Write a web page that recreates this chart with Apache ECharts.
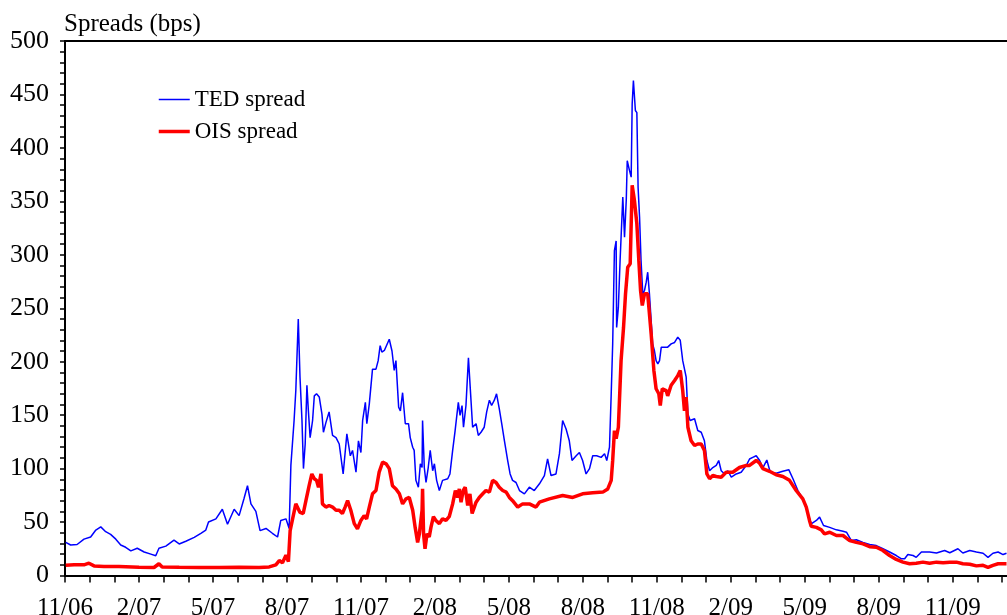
<!DOCTYPE html>
<html>
<head>
<meta charset="utf-8">
<script src="https://cdn.jsdelivr.net/npm/echarts@6/dist/echarts.min.js"></script>
<style>
html,body{margin:0;padding:0;background:#fff;}
#chart{width:1007px;height:615px;}
</style>
</head>
<body>
<div id="chart"></div>
<script>
// x values: months elapsed since 1 Nov 2006
var tickLabels = ['11/06','2/07','5/07','8/07','11/07','2/08','5/08','8/08','11/08','2/09','5/09','8/09','11/09'];
var yTicks = [0,50,100,150,200,250,300,350,400,450,500];

var tedMonths = [0.03,0.23,0.49,0.77,1.04,1.25,1.45,1.65,1.85,2.06,2.26,2.46,2.67,2.93,3.21,3.48,3.68,3.81,4.09,4.42,4.63,4.90,5.24,5.51,5.71,5.82,6.12,6.38,6.59,6.86,7.06,7.26,7.40,7.54,7.74,7.91,8.15,8.41,8.62,8.75,8.96,9.09,9.16,9.29,9.36,9.46,9.53,9.61,9.67,9.74,9.81,9.87,9.94,10.04,10.11,10.20,10.31,10.42,10.48,10.58,10.71,10.85,10.99,11.12,11.28,11.43,11.57,11.66,11.80,11.90,12.00,12.07,12.18,12.24,12.34,12.47,12.61,12.70,12.78,12.85,12.95,13.02,13.15,13.26,13.35,13.42,13.53,13.60,13.69,13.80,13.93,14.00,14.10,14.16,14.23,14.33,14.41,14.48,14.50,14.57,14.64,14.73,14.81,14.91,14.98,15.07,15.18,15.31,15.52,15.61,15.72,15.82,15.95,16.02,16.10,16.16,16.26,16.36,16.44,16.53,16.67,16.76,16.87,17.00,17.10,17.21,17.30,17.41,17.50,17.61,17.71,17.82,17.95,18.05,18.15,18.29,18.43,18.63,18.83,19.03,19.24,19.44,19.57,19.71,19.91,20.05,20.18,20.32,20.45,20.56,20.73,20.86,20.99,21.13,21.27,21.40,21.56,21.74,21.88,21.97,22.08,22.15,22.21,22.28,22.35,22.37,22.44,22.51,22.58,22.62,22.69,22.76,22.80,22.89,22.96,23.00,23.05,23.13,23.19,23.24,23.30,23.36,23.43,23.50,23.57,23.63,23.70,23.77,23.83,23.90,23.97,24.04,24.11,24.18,24.31,24.44,24.58,24.72,24.85,24.95,25.05,25.19,25.26,25.35,25.53,25.66,25.80,25.93,26.03,26.14,26.27,26.41,26.51,26.61,26.75,26.88,27.02,27.22,27.42,27.63,27.76,27.89,28.03,28.17,28.30,28.46,28.60,28.84,29.11,29.35,29.52,29.72,29.92,30.09,30.26,30.47,30.60,30.76,31.01,31.28,31.55,31.69,31.89,32.09,32.36,32.63,32.90,33.17,33.44,33.71,33.92,34.05,34.18,34.39,34.52,34.73,35.06,35.34,35.67,35.88,36.21,36.41,36.69,36.96,37.23,37.43,37.63,37.84,38.04,38.18];
var tedValues = [31,28.5,29,34,36,42.5,45.5,41,38.5,34,28.5,26.4,23,25.5,22,20,18.5,25.5,27.5,33,29.5,32,35.7,39.5,42.5,50,53,62,48,62,56,72,84,67,60,42,44,39.5,36,51.5,53,44,103,145,173,240,185.5,145,100,123,178,154,129,145,168,170,167,151,134,143,153,131,129,123,95,132.5,112,117,96.6,126,115,145,162,142,160.6,193,193,201,215,209,210.5,209,221,210,191.8,201,157.5,154,171,142,142,129,120,117,89,82.6,104.5,101,145,101,87,101,117,98,104.5,89,79.5,89,90.5,95,117,135.6,162,149.7,159,138.7,159,203.6,203.6,138.7,142,131,134,138.7,153,164,159,164,170,156,142,126,107.6,95,89,87,79.5,76.4,82.6,79.5,85.8,93.5,109,93.5,95,114,145,137,126,107.6,112,115,107.6,95,100,112,112,110.5,114,107.6,120,170,216.7,304,313,232,251,294.7,294.7,354,316.5,351,388,379,372.6,441,463,435,433,363,335,294.7,263.5,266.6,274.4,283.7,263.5,238.5,216.7,210.5,201,198,201,213.6,213.6,213.6,216.7,218,223,220,201,185.5,151,145,146.6,135.6,134,126,107.6,98,101,103,107.6,98,95,98,92,95,96.6,103,109,110.5,112,107.6,100.7,108,96.6,95.7,97.5,99,90.5,79.5,71.7,60.8,48.4,51.5,54.6,46.8,45,42.7,41.4,40.5,32.7,33.4,31,29,28,25,22,18.7,15.6,15.6,19.6,18.7,17,22,22,21,23.4,21.3,25,21,23.4,22,20.8,17,20.8,22,19.6,20.8];

var oisMonths = [0.03,0.37,0.77,0.97,1.18,1.58,2.19,3.00,3.61,3.81,3.94,4.63,5.44,6.25,7.06,7.87,8.28,8.55,8.69,8.82,8.96,9.06,9.13,9.23,9.36,9.43,9.53,9.66,9.77,9.90,10.01,10.11,10.20,10.28,10.38,10.44,10.58,10.71,10.85,10.99,11.12,11.25,11.36,11.46,11.59,11.73,11.86,12.00,12.13,12.23,12.34,12.47,12.61,12.74,12.88,13.02,13.15,13.28,13.42,13.56,13.69,13.83,13.96,14.10,14.20,14.30,14.37,14.48,14.50,14.54,14.60,14.68,14.77,14.84,14.94,15.04,15.18,15.31,15.45,15.58,15.72,15.83,15.92,15.99,16.06,16.15,16.23,16.33,16.42,16.51,16.67,16.80,16.94,17.07,17.21,17.34,17.48,17.61,17.75,17.89,18.02,18.15,18.36,18.56,18.83,19.10,19.24,19.64,20.18,20.59,20.99,21.40,21.81,22.01,22.15,22.21,22.28,22.35,22.44,22.55,22.65,22.73,22.82,22.92,23.00,23.09,23.19,23.27,23.34,23.41,23.50,23.63,23.77,23.88,23.97,24.08,24.14,24.22,24.38,24.44,24.58,24.72,24.85,24.95,25.05,25.12,25.19,25.26,25.39,25.53,25.66,25.80,25.93,26.03,26.14,26.27,26.41,26.61,26.81,27.08,27.35,27.63,27.76,28.03,28.17,28.30,28.57,28.84,29.11,29.38,29.65,29.92,30.06,30.19,30.26,30.47,30.67,30.80,31.01,31.28,31.55,31.82,32.09,32.36,32.63,32.90,33.17,33.44,33.71,33.98,34.25,34.52,34.79,35.06,35.34,35.61,35.88,36.15,36.41,36.69,36.96,37.23,37.43,37.63,37.84,38.18];
var oisValues = [9.5,10,10,11.5,9,8.5,8.5,7.8,7.5,11,8,7.7,7.5,7.5,7.7,7.5,8,10,14,12,19,13,42,53,67,68.6,59,58,70,84,95,90.5,89,82.6,95,67,64,65.5,64,61,61,58,64,70,61,48.5,43.7,51.5,56,53,64,76.4,79.5,96.7,106,104.5,100,84,81,76.4,67,71.7,73,61,45,31,39,61,81,39,25,39,36,45,55,51.5,48.5,53,51.5,55,67,79.5,73,81,68.6,79.5,82.6,65.5,76.4,58,68.6,73,76.4,79.5,78,89,87,82.6,79.5,78,73,70,64,67,67,64,68.6,71.7,74.8,73,76.4,77.4,78,81,89,107.6,135.6,128,138.7,201,232,263.5,288.4,291.6,365,351,329,294.7,266.6,252.6,263.5,263.5,226,191.8,174.7,170,159,174.7,173,168,178,182.4,187,191.8,173,154,167,138.7,126,121.6,123,123,117,95,90.5,93.5,92.6,92,96.6,96.6,101,103,103,107.6,105,100,97.5,94.2,92.6,89,79.5,71.7,64,51.5,46,45,42.7,39,40.5,37.4,37.4,32.7,31,29.6,27,26.4,23.4,18.7,15,12.5,11,11.5,12.5,11.5,12.5,12,12.5,12.5,11,10.5,9,9.5,7.6,9.5,11,11];

function pairs(xs, ys){ var out=[]; for(var i=0;i<xs.length;i++){ out.push([xs[i], ys[i]]); } return out; }

var FONT = '"Liberation Serif","Times New Roman",serif';
var chart = echarts.init(document.getElementById('chart'), null, {renderer:'canvas'});
chart.setOption({
  animation:false,
  backgroundColor:'#ffffff',
  grid:{left:65, right:0, top:41, bottom:39.5, containLabel:false, outerBoundsMode:'none'},
  legend:{
    orient:'vertical', left:157, top:88, padding:0, itemWidth:31, itemHeight:14, itemGap:9,
    itemStyle:{opacity:0},
    textStyle:{fontFamily:FONT, fontSize:23, color:'#000'},
    data:[
      {name:'TED spread', lineStyle:{width:1.5, color:'#0000ff'}},
      {name:'OIS spread', lineStyle:{width:3.5, color:'#ff0000'}}
    ]
  },
  xAxis:[{
    type:'value', min:0, max:38.2, interval:1, position:'bottom',
    axisLine:{show:true, onZero:false, lineStyle:{color:'#000', width:2}},
    axisTick:{show:true, length:7, lineStyle:{color:'#000', width:1.5}},
    splitLine:{show:false},
    axisLabel:{
      show:true, margin:20, fontFamily:FONT, fontSize:25, color:'#000',
      showMaxLabel:false,
      formatter:function(v){ var r=Math.round(v); if(Math.abs(v-r)>1e-6 || r%3!==0) return ''; return tickLabels[r/3] || ''; }
    }
  },{
    type:'value', min:0, max:38.2, position:'top',
    axisLine:{show:true, onZero:false, lineStyle:{color:'#000', width:2}},
    axisTick:{show:false}, axisLabel:{show:false}, splitLine:{show:false}
  }],
  yAxis:{
    type:'value', min:yTicks[0], max:yTicks[yTicks.length-1], interval:50,
    axisLine:{show:true, onZero:false, lineStyle:{color:'#000', width:2}},
    axisTick:{show:true, length:5, lineStyle:{color:'#000', width:1.5}},
    minorTick:{show:true, splitNumber:5, length:5, lineStyle:{color:'#000', width:1.5}},
    splitLine:{show:false},
    axisLabel:{margin:16, fontFamily:FONT, fontSize:26, color:'#000'}
  },
  graphic:[{
    type:'text', left:64, top:12,
    style:{text:'Spreads (bps)', fontFamily:FONT, fontSize:25, fill:'#000'}
  }],
  series:[{
    name:'TED spread', type:'line', xAxisIndex:0, showSymbol:false, symbol:'none',
    data:pairs(tedMonths, tedValues),
    lineStyle:{color:'#0000ff', width:1.5}, itemStyle:{color:'#0000ff'}
  },{
    name:'OIS spread', type:'line', xAxisIndex:0, showSymbol:false, symbol:'none',
    data:pairs(oisMonths, oisValues),
    lineStyle:{color:'#ff0000', width:3.5}, itemStyle:{color:'#ff0000'}
  }]
});
</script>
</body>
</html>
